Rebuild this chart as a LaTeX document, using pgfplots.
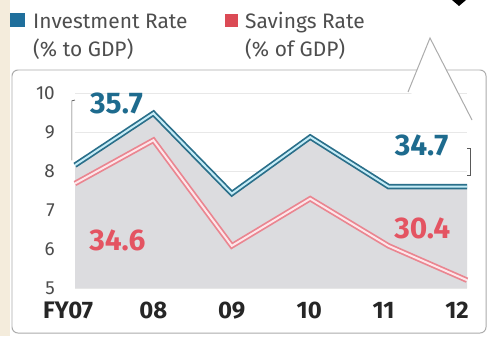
\documentclass[border=0pt]{standalone}
\usepackage{pgfplots}
\pgfplotsset{compat=1.18}
\usepackage{fontspec}
\setmainfont{Fira Sans}
\definecolor{invblue}{HTML}{1F6F9C}
\definecolor{blueout}{HTML}{2A6F8A}
\definecolor{bluein}{HTML}{C5ECF7}
\definecolor{bluetxt}{HTML}{1E6B8E}
\definecolor{savred}{HTML}{DB4A55}
\definecolor{redout}{HTML}{EA8590}
\definecolor{redin}{HTML}{FDE6EA}
\definecolor{redtxt}{HTML}{E45462}
\definecolor{areagray}{HTML}{DCDCDF}
\definecolor{beige}{HTML}{F4ECDC}
\definecolor{txtgray}{HTML}{4E4E4E}
\begin{document}
\begin{tikzpicture}[x=1bp,y=1bp]
\fill[white] (0,0) rectangle (489,336);
\fill[beige] (0,0) rectangle (10,336);
% legend
\fill[invblue] (10,309) rectangle (25,323);
\node[anchor=base west, inner sep=0pt, text=txtgray, font=\fontsize{21}{22}\selectfont] at (33,308) {Investment Rate};
\node[anchor=base west, inner sep=0pt, text=txtgray, font=\fontsize{21}{22}\selectfont] at (33,280) {(\% to GDP)};
\fill[savred] (225,309) rectangle (238,322);
\node[anchor=base west, inner sep=0pt, text=txtgray, font=\fontsize{21}{22}\selectfont] at (245,308) {Savings Rate};
\node[anchor=base west, inner sep=0pt, text=txtgray, font=\fontsize{21}{22}\selectfont] at (245,280) {(\% of GDP)};
% frame
\draw[gray!65, line width=1pt, rounded corners=6] (417,266) -- (12,266) -- (12,3) -- (486,3) -- (486,266) -- (446,266);
\begin{axis}[
  at={(75bp,48bp)}, anchor=south west,
  scale only axis, width=392bp, height=195bp,
  xmin=0, xmax=5, ymin=5, ymax=10,
  enlargelimits=false, clip=false,
  axis line style={draw=none},
  major tick length=0pt,
  xtick={0,1,2,3,4,5},
  xticklabels={\hspace*{-14bp}FY07,08,09,\hspace*{-2bp}10,\hspace*{-10bp}11,\hspace*{-20bp}12},
  ytick={5,6,7,8,9,10},
  ymajorgrids, grid style={gray!18, line width=0.8pt},
  /pgf/number format/assume math mode=true,
  xticklabel style={anchor=north, inner sep=0pt, yshift=-14bp, text=black!85, font=\fontsize{24}{25}\selectfont\bfseries},
  yticklabel style={anchor=east, inner sep=0pt, xshift=-20bp, text=black!70, font=\fontsize{19}{20}\selectfont},
]
\addplot[fill=areagray, draw=none] coordinates {(0,8.15)(1,9.48)(2,7.42)(3,8.87)(4,7.6)(5,7.6)} \closedcycle;
\addplot[redout, line width=5.5bp, line join=miter] coordinates {(0,7.68)(1,8.79)(2,6.08)(3,7.29)(4,6.08)(5,5.2)};
\addplot[redin, line width=2bp, line join=miter] coordinates {(0,7.68)(1,8.79)(2,6.08)(3,7.29)(4,6.08)(5,5.2)};
\addplot[blueout, line width=5.5bp, line join=miter] coordinates {(0,8.15)(1,9.48)(2,7.42)(3,8.87)(4,7.6)(5,7.6)};
\addplot[bluein, line width=2bp, line join=miter] coordinates {(0,8.15)(1,9.48)(2,7.42)(3,8.87)(4,7.6)(5,7.6)};
% brackets
\draw[black!65, line width=0.7pt] (axis cs:0.0,9.82) -- (axis cs:-0.04,9.8) -- (axis cs:-0.04,8.27);
\draw[black!65, line width=0.7pt] (axis cs:5.0,8.58) -- (axis cs:5.04,8.58) -- (axis cs:5.04,7.89) -- (axis cs:5.0,7.89);
% value labels
\node[text=bluetxt, font=\fontsize{30}{32}\selectfont\bfseries] at (axis cs:0.53,9.74) {35.7};
\node[text=bluetxt, font=\fontsize{30}{32}\selectfont\bfseries] at (axis cs:4.42,8.66) {34.7};
\node[text=redtxt, font=\fontsize{30}{32}\selectfont\bfseries] at (axis cs:0.54,6.21) {34.6};
\node[text=redtxt, font=\fontsize{30}{32}\selectfont\bfseries] at (axis cs:4.43,6.52) {30.4};
\end{axis}
% callout
\fill[white] (408,244) -- (430,298) -- (472,216) -- cycle;
\draw[gray!65, line width=1pt] (408,244) -- (430,298) -- (472,216);
\fill[black] (452,336) -- (466,336) -- (459,330) -- cycle;
\end{tikzpicture}
\end{document}
